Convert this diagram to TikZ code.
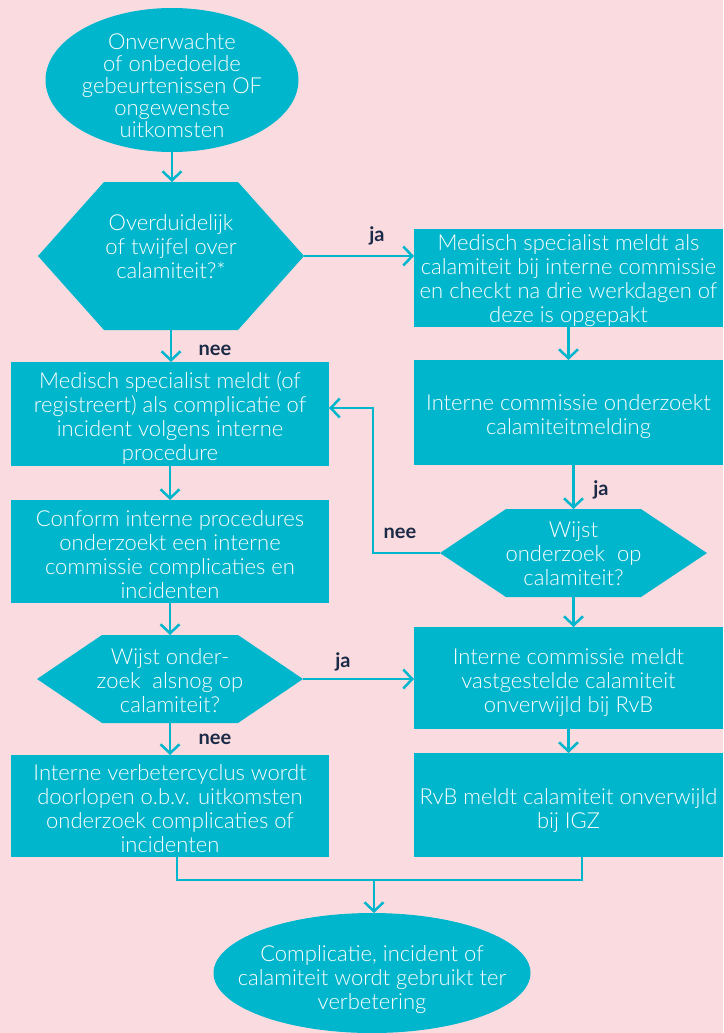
\documentclass[tikz,border=0pt]{standalone}
\usepackage{fontspec}
\setmainfont{Lato}[UprightFont=* Light, BoldFont=* Bold]
\usetikzlibrary{arrows.meta,shapes.geometric}
\definecolor{bgpink}{HTML}{FADCE0}
\definecolor{tealbox}{HTML}{00B6CD}
\definecolor{navylbl}{HTML}{1B2A47}
\begin{document}
\begin{tikzpicture}[x=1pt,y=-1pt,
  txt/.style={text=white, font=\fontsize{22}{24}\selectfont, align=center, inner sep=0pt},
  boxs/.style={fill=tealbox, inner sep=0pt, outer sep=0pt},
  shp/.style={inner sep=0pt, outer sep=0pt},
  lbl/.style={text=navylbl, font=\fontsize{20}{22}\selectfont\bfseries, inner sep=0pt},
  arr/.style={draw=tealbox, line width=2.5pt, -{Straight Barb[length=9pt,width=19pt,line width=2.5pt]}},
  ln/.style={draw=tealbox, line width=2.5pt}
]
\fill[bgpink] (0,0) rectangle (723,1033);
\useasboundingbox (0,0) rectangle (723,1033);

% top ellipse
\node[shp, ellipse, fill=tealbox, minimum width=253pt, minimum height=144pt] (e1) at (172,80) {};
\node[txt, font=\fontsize{22}{22}\selectfont] (e1t) at (172,86) {Onverwachte\\of onbedoelde\\gebeurtenissen OF\\ongewenste\\uitkomsten};

% hexagon 1
\node[shp, minimum width=266pt, minimum height=148pt] (h1) at (171,256) {};
\fill[tealbox] ([xshift=66pt]h1.north west) -- ([xshift=-66pt]h1.north east) -- (h1.east)
  -- ([xshift=-66pt]h1.south east) -- ([xshift=66pt]h1.south west) -- (h1.west) -- cycle;
\node[txt] (h1t) at (171,246.5) {Overduidelijk\\of twijfel over\\calamiteit?*};

% right column
\node[boxs, minimum width=309pt, minimum height=98pt] (rb1) at (568.5,278) {};
\node[txt] (rb1t) at (568.5,281)
  {Medisch specialist meldt als\\calamiteit bij interne commissie\\en checkt na drie werkdagen of\\deze is opgepakt};
\node[boxs, minimum width=309pt, minimum height=105pt] (rb2) at (568.5,412.5) {};
\node[txt] (rb2t) at (568.5,417) {Interne commissie onderzoekt\\calamiteitmelding};

\node[shp, minimum width=267pt, minimum height=88pt] (h2) at (573.5,553) {};
\fill[tealbox] ([xshift=66pt]h2.north west) -- ([xshift=-66pt]h2.north east) -- (h2.east)
  -- ([xshift=-66pt]h2.south east) -- ([xshift=66pt]h2.south west) -- (h2.west) -- cycle;
\node[txt] (h2t) at (573.5,554) {Wijst\\onderzoek\ \ op\\calamiteit?};

\node[boxs, minimum width=309pt, minimum height=102pt] (rb3) at (568.5,678) {};
\node[txt] (rb3t) at (568.5,683) {Interne commissie meldt\\vastgestelde calamiteit\\onverwijld bij RvB};
\node[boxs, minimum width=309pt, minimum height=104pt] (rb4) at (568.5,805) {};
\node[txt] (rb4t) at (568.5,811) {RvB meldt calamiteit onverwijld\\bij IGZ};

% left column
\node[boxs, minimum width=318pt, minimum height=104pt] (lb1) at (170,414) {};
\node[txt] (lb1t) at (170,418.5)
  {Medisch specialist meldt (of\\registreert) als complicatie of\\incident volgens interne\\procedure};
\node[boxs, minimum width=318pt, minimum height=103pt] (lb2) at (170,551.5) {};
\node[txt] (lb2t) at (170,555)
  {Conform interne procedures\\onderzoekt een interne\\commissie complicaties en\\incidenten};

\node[shp, minimum width=266pt, minimum height=88pt] (h3) at (170,679) {};
\fill[tealbox] ([xshift=65pt]h3.north west) -- ([xshift=-65pt]h3.north east) -- (h3.east)
  -- ([xshift=-65pt]h3.south east) -- ([xshift=65pt]h3.south west) -- (h3.west) -- cycle;
\node[txt] (h3t) at (170,681) {Wijst onder-\\zoek\ \ alsnog op\\calamiteit?};

\node[boxs, minimum width=318pt, minimum height=102pt] (lb3) at (170,806) {};
\node[txt] (lb3t) at (170,809)
  {Interne verbetercyclus wordt\\doorlopen o.b.v. uitkomsten\\onderzoek complicaties of\\incidenten};

% bottom ellipse
\node[shp, ellipse, fill=tealbox, minimum width=317pt, minimum height=120pt] (e2) at (372,973) {};
\node[txt] (e2t) at (372,980) {Complicatie, incident of\\calamiteit wordt gebruikt ter\\verbetering};

% connectors
\draw[arr] (e1.south) -- (e1.south |- h1.north);
\draw[arr] (h1.east) -- (h1.east -| rb1.west);
\draw[arr] (rb1.south) -- (rb2.north);
\draw[arr] (h2.north |- rb2.south) -- (h2.north);
\draw[arr] (h2.south) -- (h2.south |- rb3.north);
\draw[arr] (rb3.south) -- (rb4.north);
\draw[arr] (h1.south) -- (h1.south |- lb1.north);
\draw[arr] (lb1.south) -- (lb2.north);
\draw[arr] (lb2.south) -- (lb2.south |- h3.north);
\draw[arr] (h3.south) -- (h3.south |- lb3.north);
\draw[arr] (h3.east) -- (h3.east -| rb3.west);
\coordinate (nloop) at (373,408);
\draw[arr] (h2.west) -| (nloop) -- (nloop -| lb1.east);
\coordinate (merge) at (374,880);
\draw[ln] ([xshift=7pt]lb3.south) |- (merge) -| ([xshift=13.5pt]rb4.south);
\draw[arr] (merge) -- (merge |- e2.north);

% labels
\node[lbl] (ja1) at (377,236) {ja};
\node[lbl] (nee1) at (215,350) {nee};
\node[lbl] (ja2) at (601,490) {ja};
\node[lbl] (nee2) at (400,533) {nee};
\node[lbl] (ja3) at (343,662) {ja};
\node[lbl] (nee3) at (215,739) {nee};
\end{tikzpicture}
\end{document}
